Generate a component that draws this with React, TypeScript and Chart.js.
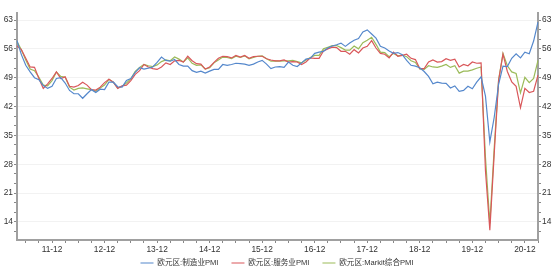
import React, { useEffect, useRef } from 'react';
import { Chart, registerables } from 'chart.js';

Chart.register(...registerables);

// Monthly data: 2011-04 .. 2021-03
const START_YEAR = 2011;
const START_MONTH = 4;
const N_MONTHS = 120;

const categories: string[] = [];
for (let i = 0; i < N_MONTHS; i++) {
  const m = START_MONTH - 1 + i;
  const y = START_YEAR + Math.floor(m / 12);
  const mm = (m % 12) + 1;
  categories.push(`${String(y % 100).padStart(2, '0')}-${String(mm).padStart(2, '0')}`);
}

const manufacturing = [
  58.0, 54.6, 52.0, 50.4, 49.0, 48.5, 47.1, 46.4, 46.9,
  48.8, 49.0, 47.7, 45.9, 45.1, 45.1, 44.0, 45.1, 46.1, 45.4, 46.2, 46.1,
  47.9, 47.9, 46.8, 46.7, 48.3, 48.8, 50.3, 51.4, 51.1, 51.3, 51.6, 52.7,
  54.0, 53.2, 53.0, 53.4, 52.2, 51.8, 51.8, 50.7, 50.3, 50.6, 50.1, 50.6,
  51.0, 51.0, 52.2, 52.0, 52.2, 52.5, 52.4, 52.3, 52.0, 52.3, 52.8, 53.2,
  52.3, 51.2, 51.6, 51.7, 51.5, 52.8, 52.0, 51.7, 52.6, 53.5, 53.7, 54.9,
  55.2, 55.4, 56.2, 56.7, 57.0, 57.4, 56.6, 57.4, 58.1, 58.5, 60.1, 60.6,
  59.6, 58.6, 56.6, 56.2, 55.5, 54.9, 55.1, 54.6, 53.2, 52.0, 51.8, 51.4,
  50.5, 49.3, 47.5, 47.9, 47.7, 47.6, 46.5, 47.0, 45.7, 45.9, 46.9, 46.3,
  47.9, 49.2, 44.5, 33.4, 39.4, 47.4, 51.8, 51.7, 53.7, 54.8, 53.8, 55.2,
  54.8, 57.9, 62.5,
];

const services = [
  56.7, 55.8, 53.7, 51.6, 51.5, 48.8, 46.4, 47.5, 48.8,
  50.4, 48.8, 49.2, 46.9, 46.7, 47.1, 47.9, 47.2, 46.1, 46.0, 46.7, 47.8,
  48.6, 47.9, 46.4, 47.0, 47.2, 48.3, 49.8, 50.7, 52.2, 51.6, 51.2, 51.0,
  51.6, 52.6, 52.2, 53.1, 53.2, 52.8, 54.2, 53.1, 52.4, 52.3, 51.1, 51.6,
  52.7, 53.7, 54.2, 54.1, 53.8, 54.4, 54.0, 54.4, 53.7, 54.1, 54.2, 54.2,
  53.6, 53.3, 53.1, 53.1, 53.3, 52.8, 52.9, 52.8, 52.2, 52.8, 53.8, 53.7,
  53.7, 55.5, 56.0, 56.4, 56.3, 55.4, 55.4, 54.7, 55.8, 55.0, 56.2, 56.6,
  58.0, 56.2, 54.9, 54.7, 53.8, 55.2, 54.2, 54.4, 54.7, 53.7, 53.4, 51.2,
  51.2, 52.8, 53.3, 52.8, 52.9, 53.6, 53.2, 53.5, 51.6, 52.2, 51.9, 52.8,
  52.5, 52.6, 26.4, 12.0, 30.5, 48.3, 54.7, 50.5, 48.0, 46.9, 41.7, 46.4,
  45.4, 45.7, 49.6,
];

const composite = [
  57.8, 55.8, 53.3, 51.1, 50.7, 49.1, 47.2, 47.0, 48.3,
  50.4, 49.3, 49.1, 46.7, 46.0, 46.4, 46.5, 46.3, 46.1, 45.7, 46.5, 47.2,
  48.6, 47.9, 46.5, 46.9, 47.7, 48.7, 50.5, 51.5, 52.2, 51.9, 51.7, 52.1,
  52.9, 53.3, 53.1, 54.0, 53.5, 52.8, 53.8, 52.5, 52.0, 52.1, 51.1, 51.4,
  52.6, 53.3, 54.0, 53.9, 53.6, 54.2, 53.9, 54.3, 53.6, 53.9, 54.2, 54.3,
  53.6, 53.0, 53.1, 53.0, 53.1, 53.1, 53.2, 52.9, 52.6, 53.3, 53.9, 54.4,
  54.4, 56.0, 56.4, 56.8, 56.8, 56.3, 55.7, 55.7, 56.7, 56.0, 57.5, 58.1,
  58.8, 57.1, 55.2, 55.1, 54.1, 54.9, 54.3, 54.5, 54.1, 53.1, 52.7, 51.1,
  51.0, 51.9, 51.6, 51.5, 51.8, 52.2, 51.5, 51.9, 50.1, 50.6, 50.6, 50.9,
  51.3, 51.6, 29.7, 13.6, 31.9, 48.5, 54.9, 51.9, 50.4, 50.0, 45.3, 49.1,
  47.8, 48.8, 53.2,
];

const seriesNames = ['欧元区:制造业PMI', '欧元区:服务业PMI', '欧元区:Markit综合PMI'];
const seriesColors = ['#5588cc', '#d9575a', '#9bbb59'];

const Y_MIN = 9.6;
const Y_MAX = 64.7;
const Y_MAJOR_START = 14;
const Y_MAJOR_STEP = 7;

const FAMILY = '"Liberation Sans", "Noto Sans CJK SC", sans-serif';
const TICK_FONT = { size: 8.4, family: FAMILY };
const LEGEND_FONT = { size: 7.6, family: FAMILY };

const isMajor = (v: number) => {
  const r = (v - Y_MAJOR_START) / Y_MAJOR_STEP;
  return Math.abs(r - Math.round(r)) < 1e-6;
};

const yTickValues = (): number[] => {
  const out: number[] = [];
  for (let k = -6; k <= 30; k++) {
    const v = Y_MAJOR_START + (k * Y_MAJOR_STEP) / 3;
    if (v >= Y_MIN && v <= Y_MAX) out.push(v);
  }
  return out;
};

// Legend: keep wide horizontal spacing between items but a compact box,
// starting the drawing a little higher so the row sits where the reference has it.
const LEGEND_BOX_H = 16;
const LEGEND_DRAW_SHIFT = 9.8;
const legendFitPlugin = {
  id: 'legendFit',
  beforeLayout(chart: any) {
    const lg = chart.legend;
    if (lg && !lg.__patched) {
      const origFit = lg.fit.bind(lg);
      lg.fit = function () {
        origFit();
        this.height = LEGEND_BOX_H;
      };
      const origDraw = lg.draw.bind(lg);
      lg.draw = function () {
        const t = this.top;
        this.top = t - LEGEND_DRAW_SHIFT;
        origDraw();
        this.top = t;
      };
      lg.__patched = true;
    }
  },
};

const makeYAxis = (position: 'left' | 'right', width: number, drawGrid: boolean) => ({
  type: 'linear' as const,
  position,
  min: Y_MIN,
  max: Y_MAX,
  afterBuildTicks: (s: any) => {
    s.ticks = yTickValues().map((v) => ({ value: v }));
  },
  afterFit: (s: any) => {
    s.width = width;
  },
  ticks: {
    autoSkip: false,
    padding: 1,
    color: '#333',
    font: TICK_FONT,
    callback: (v: any) => (isMajor(Number(v)) ? String(Math.round(Number(v))) : ''),
  },
  grid: {
    drawOnChartArea: drawGrid,
    tickLength: 3,
    tickColor: '#888',
    color: (ctx: any) => (ctx.tick && isMajor(ctx.tick.value) ? '#f2f2f2' : 'rgba(0,0,0,0)'),
  },
  border: { display: true, color: '#a0a0a0', width: 2 },
});

export default function App() {
  const canvasRef = useRef<HTMLCanvasElement | null>(null);

  useEffect(() => {
    document.body.style.margin = '0';
    const canvas = canvasRef.current;
    if (!canvas) return;
    const chart = new Chart(canvas, {
      type: 'line',
      data: {
        labels: categories,
        datasets: [manufacturing, services, composite].map((d, i) => ({
          label: seriesNames[i],
          data: d,
          borderColor: seriesColors[i],
          backgroundColor: seriesColors[i],
          borderWidth: 1.2,
          pointRadius: 0,
          tension: 0,
          fill: false,
          yAxisID: 'y',
        })),
      },
      options: {
        animation: false,
        responsive: false,
        devicePixelRatio: 1,
        layout: { padding: { top: 13, left: 0, right: 0, bottom: 0 } },
        plugins: {
          tooltip: { enabled: false },
          legend: {
            display: true,
            position: 'bottom',
            align: 'center',
            labels: {
              usePointStyle: true,
              pointStyle: 'line',
              pointStyleWidth: 13,
              padding: 13,
              color: '#333',
              font: LEGEND_FONT,
            },
          },
        },
        scales: {
          x: {
            type: 'category',
            offset: false,
            afterFit: (s: any) => {
              s.height = 16;
            },
            ticks: {
              autoSkip: false,
              maxRotation: 0,
              minRotation: 0,
              padding: 2,
              color: '#333',
              font: TICK_FONT,
              callback: (_v: any, i: number) => (categories[i].endsWith('-12') ? categories[i] : ''),
            },
            grid: {
              drawOnChartArea: false,
              offset: false,
              tickLength: 3,
              tickColor: (ctx: any) => {
                const mm = Number(categories[ctx.index]?.slice(3));
                return mm % 3 === 0 ? '#888' : 'rgba(0,0,0,0)';
              },
            },
            border: { display: true, color: '#a0a0a0', width: 2 },
          },
          y: makeYAxis('left', 17, true),
          y2: makeYAxis('right', 16, false),
        },
      },
      plugins: [legendFitPlugin],
    });
    return () => chart.destroy();
  }, []);

  return (
    <div style={{ width: 554, height: 272, position: 'relative' }}>
      <canvas ref={canvasRef} width={554} height={272} style={{ display: 'block' }} />
    </div>
  );
}
